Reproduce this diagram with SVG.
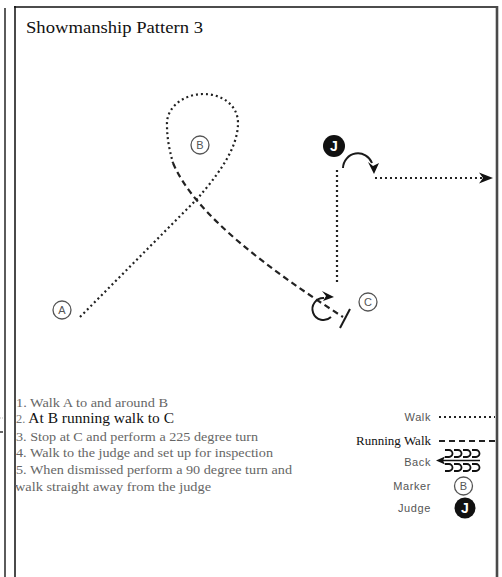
<svg xmlns="http://www.w3.org/2000/svg" width="502" height="577" viewBox="0 0 502 577">
<style>
.frame{stroke:#4a4a4a;fill:none}
.walk{fill:none;stroke:#222;stroke-width:2.2;stroke-dasharray:2 3}
.run{fill:none;stroke:#222;stroke-width:2.2;stroke-dasharray:6 4}
.solid{fill:none;stroke:#1a1a1a;stroke-width:2}
.head{fill:#111}
.mk{fill:#fff;stroke:#555;stroke-width:1.3}
.mkt{font-family:"Liberation Sans",Arial,sans-serif;font-size:11px;fill:#555;text-anchor:middle}
.judge{fill:#111}
.jt{font-family:"Liberation Sans",Arial,sans-serif;font-size:14px;font-weight:bold;fill:#fff;text-anchor:middle}
.step{font-family:"Liberation Serif","Times New Roman",serif;font-size:13px;fill:#666}
.lg{font-family:"Liberation Sans",Arial,sans-serif;font-size:11px;fill:#555;text-anchor:end;letter-spacing:0.6px}
</style>
<rect width="502" height="577" fill="#fff"/>
<g id="frame">
<line class="frame" x1="5" y1="8" x2="5" y2="577" stroke-width="1.8"/>
<line class="frame" x1="15" y1="6" x2="15" y2="577" stroke-width="2"/>
<line x1="14" y1="7" x2="498" y2="7" stroke="#111" stroke-width="1.5"/>
<line class="frame" x1="497" y1="6" x2="497" y2="577" stroke-width="2.6"/>
<line x1="0" y1="432" x2="3" y2="432" stroke="#333" stroke-width="1.5"/>
<line x1="0" y1="418" x2="4" y2="418" stroke="#bbb" stroke-width="1" stroke-dasharray="1 1"/>
</g>
<text id="title" x="26" y="33" font-family="'Liberation Serif','Times New Roman',serif" font-size="17.5" fill="#111" textLength="177" lengthAdjust="spacingAndGlyphs">Showmanship Pattern 3</text>
<g id="connectors">
<path class="walk" d="M80,317 L198,198 C215,178 238,150 238,123 C238,105 222,94 203,94 C183,94 166,108 167,125 C167,140 170,152 173,163"/>
<path class="run" d="M173,163 C195,215 270,270 343,317"/>
<line class="solid" x1="340" y1="328" x2="350" y2="309"/>
<path class="solid" d="M331,317 A11,11 0 1 1 324,298"/>
<path class="head" d="M334,297 L322,291 L326,296 L323,301 z"/>
<path class="walk" d="M337,170 V284"/>
<path class="solid" d="M343,168 A15,15 0 0 1 372,163"/>
<path class="head" d="M374,174 L368,162 L373,166 L379,163 z"/>
<path class="walk" d="M375,178 H482"/>
<path class="head" d="M493,178 L479,172.5 L483,178 L479,183.5 z"/>
</g>
<g id="marker-a"><circle class="mk" cx="62" cy="310" r="9"/><text class="mkt" x="62" y="314">A</text></g>
<g id="marker-b"><circle class="mk" cx="200" cy="145" r="9"/><text class="mkt" x="200" y="149">B</text></g>
<g id="marker-c"><circle class="mk" cx="368" cy="302" r="9"/><text class="mkt" x="368" y="306">C</text></g>
<g id="judge"><circle class="judge" cx="334" cy="146" r="11"/><text class="jt" x="334" y="151">J</text></g>
<g id="steps">
<text class="step" x="16" y="407" textLength="152" lengthAdjust="spacingAndGlyphs">1. Walk A to and around B</text>
<text x="16" y="423" font-family="'Liberation Serif','Times New Roman',serif" font-size="15" fill="#111" textLength="158" lengthAdjust="spacingAndGlyphs"><tspan fill="#777" font-size="12">2.</tspan> At B running walk to C</text>
<text class="step" x="16" y="441" textLength="242" lengthAdjust="spacingAndGlyphs">3. Stop at C and perform a 225 degree turn</text>
<text class="step" x="16" y="457" textLength="257" lengthAdjust="spacingAndGlyphs">4. Walk to the judge and set up for inspection</text>
<text class="step" x="16" y="474" textLength="276" lengthAdjust="spacingAndGlyphs">5. When dismissed perform a 90 degree turn and</text>
<text class="step" x="15" y="491" textLength="196" lengthAdjust="spacingAndGlyphs">walk straight away from the judge</text>
</g>
<g id="legend">
<text class="lg" x="431" y="421">Walk</text>
<line class="walk" x1="439" y1="417" x2="495" y2="417"/>
<text x="431" y="445" font-family="'Liberation Serif','Times New Roman',serif" font-size="13" fill="#111" text-anchor="end">Running Walk</text>
<line class="run" x1="439" y1="441" x2="497" y2="441"/>
<text class="lg" x="431" y="466">Back</text>
<line x1="440" y1="460.5" x2="480" y2="460.5" stroke="#111" stroke-width="1.5"/>
<path class="head" d="M436,460.5 L445,456.5 L443,460.5 L445,464.5 z"/>
<path fill="none" stroke="#111" stroke-width="1.8" d="M445,450 h4 a3.5,3.5 0 0 1 0,7 h-4 M454,450 h4 a3.5,3.5 0 0 1 0,7 h-4 M463,450 h4 a3.5,3.5 0 0 1 0,7 h-4 M472,450 h4 a3.5,3.5 0 0 1 0,7 h-4 M445,464 h4 a3.5,3.5 0 0 1 0,7 h-4 M454,464 h4 a3.5,3.5 0 0 1 0,7 h-4 M463,464 h4 a3.5,3.5 0 0 1 0,7 h-4 M472,464 h4 a3.5,3.5 0 0 1 0,7 h-4"/>
<text class="lg" x="431" y="490">Marker</text>
<circle class="mk" cx="463.5" cy="486" r="9"/><text class="mkt" x="463.5" y="490">B</text>
<text class="lg" x="431" y="512">Judge</text>
<circle class="judge" cx="465" cy="508" r="10.5"/><text class="jt" x="465" y="513">J</text>
</g>
</svg>
